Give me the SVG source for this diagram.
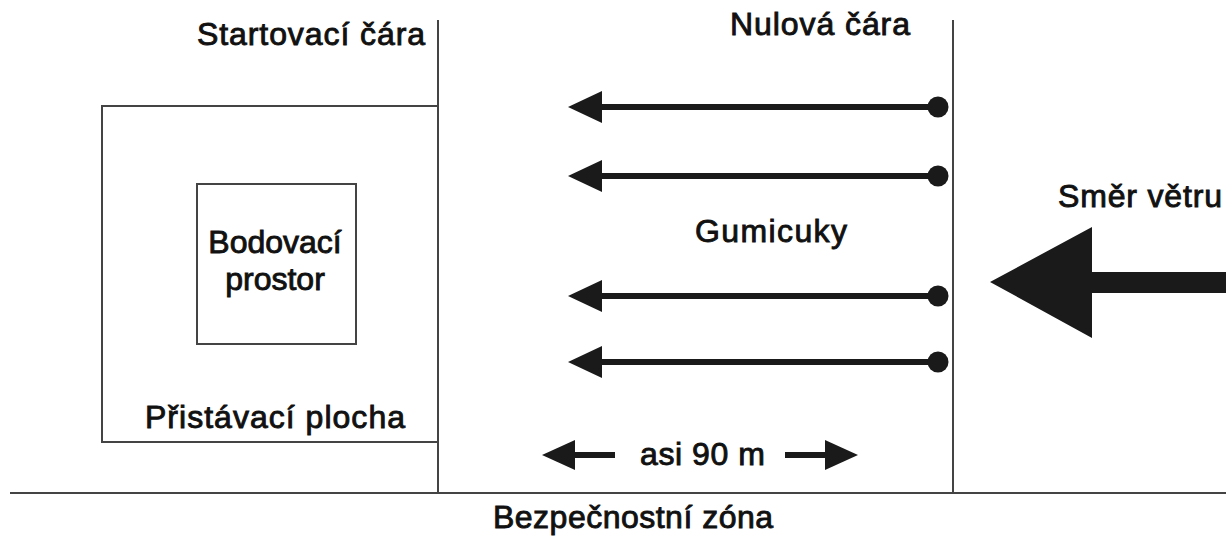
<svg xmlns="http://www.w3.org/2000/svg" width="1226" height="537" viewBox="0 0 1226 537">
<style>
.t{font-family:"Liberation Sans",Arial,sans-serif;font-size:32px;fill:#111;stroke:#111;stroke-width:0.9}
.ln{stroke:#444;stroke-width:2;fill:none}
.bx{stroke:#444;stroke-width:2;fill:none}
.sh{stroke:#1a1a1a;stroke-width:6}
.hd{fill:#1a1a1a}
</style>
<rect width="1226" height="537" fill="#fff"/>
<g id="lines">
<line class="ln" x1="438" y1="20" x2="438" y2="493"/>
<line class="ln" x1="953" y1="20" x2="953" y2="493"/>
<line class="ln" x1="10" y1="493" x2="1226" y2="493"/>
</g>
<g id="pristavaci-plocha">
<polyline class="bx" points="438,106 102,106 102,442 438,442"/>
<text class="t" x="145" y="428" textLength="260">Přistávací plocha</text>
</g>
<g id="bodovaci-prostor">
<rect class="bx" x="197" y="184" width="159" height="160"/>
<text class="t" x="275" y="253" text-anchor="middle">Bodovací</text>
<text class="t" x="275" y="290" text-anchor="middle">prostor</text>
</g>
<g id="labels">
<text class="t" x="197" y="45" textLength="228">Startovací čára</text>
<text class="t" x="730" y="35" textLength="180">Nulová čára</text>
<text class="t" x="695" y="242" textLength="152">Gumicuky</text>
<text class="t" x="1058" y="207" textLength="164">Směr větru</text>
<text class="t" x="493" y="528" textLength="280">Bezpečnostní zóna</text>
<text class="t" x="640" y="465" textLength="125">asi 90 m</text>
</g>
<g id="connectors">
<g id="gumicuk1">
<line class="sh" x1="600" y1="107" x2="938" y2="107"/>
<polygon class="hd" points="568,107 602,91 602,123"/>
<circle class="hd" cx="938" cy="107" r="10.5"/>
</g>
<g id="gumicuk2">
<line class="sh" x1="600" y1="176" x2="938" y2="176"/>
<polygon class="hd" points="568,176 602,160 602,192"/>
<circle class="hd" cx="938" cy="176" r="10.5"/>
</g>
<g id="gumicuk3">
<line class="sh" x1="600" y1="296" x2="938" y2="296"/>
<polygon class="hd" points="568,296 602,280 602,312"/>
<circle class="hd" cx="938" cy="296" r="10.5"/>
</g>
<g id="gumicuk4">
<line class="sh" x1="600" y1="362" x2="938" y2="362"/>
<polygon class="hd" points="568,362 602,346 602,378"/>
<circle class="hd" cx="938" cy="362" r="10.5"/>
</g>
<g id="vitr">
<polygon class="hd" points="990,282 1092,227 1092,272 1226,272 1226,293 1092,293 1092,338"/>
</g>
<g id="vzdalenost">
<line class="sh" x1="570" y1="455" x2="615" y2="455"/>
<polygon class="hd" points="542,455 575,440 575,470"/>
<line class="sh" x1="785" y1="455" x2="830" y2="455"/>
<polygon class="hd" points="858,455 825,440 825,470"/>
</g>
</g>
</svg>
